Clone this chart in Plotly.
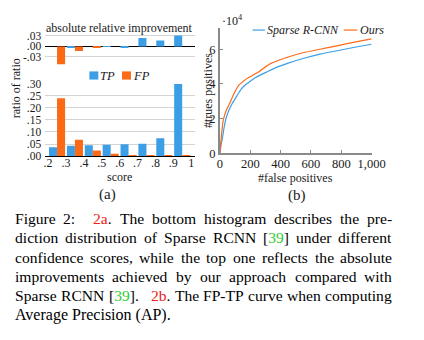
import plotly.graph_objects as go

W, H = 424, 340

# ---------------- data ----------------
score_bin_centers = [0.25, 0.35, 0.45, 0.55, 0.65, 0.75, 0.85, 0.95]
score_tick_vals = [0.2, 0.3, 0.4, 0.5, 0.6, 0.7, 0.8, 0.9, 1.0]
score_tick_text = [".2", ".3", ".4", ".5", ".6", ".7", ".8", ".9", "1"]

tp_ratio = [0.037, 0.043, 0.045, 0.047, 0.049, 0.051, 0.074, 0.300]
fp_ratio = [0.240, 0.068, 0.023, 0.009, 0.004, 0.002, 0.001, 0.001]

tp_improvement = [0.000, -0.002, 0.000, 0.0005, -0.003, 0.024, 0.017, 0.031]
fp_improvement = [-0.051, -0.013, -0.002, 0.000, 0.000, 0.000, 0.000, 0.000]

improve_tick_vals = [-0.03, 0.0, 0.03]
improve_tick_text = ["-.03", ".00", ".03"]
ratio_tick_vals = [0.0, 0.05, 0.10, 0.15, 0.20, 0.25, 0.30]
ratio_tick_text = [".00", ".05", ".10", ".15", ".20", ".25", ".30"]

fp_ours = [0, 5, 12, 20, 38, 63, 91, 122, 150, 186, 259, 333, 450, 553, 660, 764, 880, 1000]
tp_ours = [0.0, 0.6, 1.2, 1.8, 2.39, 2.85, 3.40, 3.90, 4.12, 4.35, 4.72, 5.17, 5.55, 5.81, 6.00, 6.18, 6.40, 6.60]

fp_sparse = [0, 8, 17, 27, 38, 55, 80, 112, 140, 165, 200, 238, 312, 380, 450, 553, 660, 764, 880, 1000]
tp_sparse = [0.0, 0.5, 0.9, 1.46, 1.93, 2.39, 2.85, 3.31, 3.70, 3.92, 4.15, 4.38, 4.70, 4.98, 5.20, 5.48, 5.72, 5.90, 6.10, 6.29]

fp_tick_vals = [0, 200, 400, 600, 800, 1000]
fp_tick_text = ["0", "200", "400", "600", "800", "1,000"]
tp_tick_vals = [0, 2, 4, 6]
tp_tick_text = ["0", "2", "4", "6"]

BLUE = "#3c9fe6"
ORANGE = "#fc6a17"
SERIF = "Liberation Serif"
TXT = "#1a1a1a"


def px(x):
    return x / W


def py(y):
    return 1 - y / H


fig = go.Figure()

# top-left: improvement
fig.add_trace(go.Bar(x=score_bin_centers, y=tp_improvement, width=0.045, offset=-0.045,
                     marker=dict(color=BLUE, line=dict(width=0)), xaxis="x", yaxis="y", showlegend=False))
fig.add_trace(go.Bar(x=score_bin_centers, y=fp_improvement, width=0.045, offset=0.0,
                     marker=dict(color=ORANGE, line=dict(width=0)), xaxis="x", yaxis="y", showlegend=False))
# bottom-left: ratio
fig.add_trace(go.Bar(x=score_bin_centers, y=tp_ratio, width=0.045, offset=-0.045,
                     marker=dict(color=BLUE, line=dict(width=0)), xaxis="x2", yaxis="y2", showlegend=False))
fig.add_trace(go.Bar(x=score_bin_centers, y=fp_ratio, width=0.045, offset=0.0,
                     marker=dict(color=ORANGE, line=dict(width=0)), xaxis="x2", yaxis="y2", showlegend=False))
# right: FP-TP curves
fig.add_trace(go.Scatter(x=fp_sparse, y=tp_sparse, mode="lines",
                         line=dict(color=BLUE, width=1.2, shape="spline", smoothing=0.6),
                         xaxis="x3", yaxis="y3", showlegend=False))
fig.add_trace(go.Scatter(x=fp_ours, y=tp_ours, mode="lines",
                         line=dict(color=ORANGE, width=1.2, shape="spline", smoothing=0.6),
                         xaxis="x3", yaxis="y3", showlegend=False))

left_x_dom = [px(44), px(200)]
left_x_range = [0.2 - 3 / 186.25, 1.0 + 4 / 186.25]
tick_font = dict(family=SERIF, size=11.5, color=TXT)

fig.update_layout(
    width=W, height=H, margin=dict(l=0, r=0, t=0, b=0),
    paper_bgcolor="white", plot_bgcolor="white",
    barmode="overlay",
    font=dict(family=SERIF, size=12, color=TXT),
    xaxis=dict(domain=left_x_dom, range=left_x_range, anchor="y", showticklabels=False,
               showgrid=False, zeroline=False, ticks=""),
    yaxis=dict(domain=[py(60.7), py(29.2)], range=[-0.051, 0.035], anchor="x",
               tickvals=improve_tick_vals, ticktext=improve_tick_text, tickfont=tick_font,
               showgrid=True, gridcolor="#d4d4d4", gridwidth=1,
               zeroline=True, zerolinecolor="#000000", zerolinewidth=1, ticks="", ticklen=0,
               ticklabelstandoff=3),
    xaxis2=dict(domain=left_x_dom, range=left_x_range, anchor="y2",
                tickvals=score_tick_vals, ticktext=score_tick_text, tickfont=dict(family=SERIF, size=12, color=TXT),
                showgrid=False, zeroline=False, showline=True, linecolor="#000000", linewidth=1,
                ticks="", ticklen=0, ticklabelstandoff=-4),
    yaxis2=dict(domain=[py(156), py(81)], range=[0, 0.30], anchor="x2",
                tickvals=ratio_tick_vals, ticktext=ratio_tick_text, tickfont=tick_font,
                showgrid=True, gridcolor="#d4d4d4", gridwidth=1, zeroline=False, ticks="", ticklen=0,
                ticklabelstandoff=3),
    xaxis3=dict(domain=[px(226), px(384)], range=[0, 1000], anchor="y3",
                tickvals=fp_tick_vals, ticktext=fp_tick_text, tickfont=dict(family=SERIF, size=12.5, color=TXT),
                showgrid=False, zeroline=False, showline=True, linecolor="#8a8a8a", linewidth=1.5,
                ticks="inside", ticklen=3, tickcolor="#8a8a8a", ticklabelstandoff=-2),
    yaxis3=dict(domain=[py(153), py(23)], range=[0, 7.22], anchor="x3",
                tickvals=tp_tick_vals, ticktext=tp_tick_text, tickfont=dict(family=SERIF, size=12.5, color=TXT),
                showgrid=False, zeroline=False, showline=True, linecolor="#8a8a8a", linewidth=2,
                ticks="inside", ticklen=3, tickcolor="#8a8a8a"),
)

ann = []
shapes = []


def label(x, y, text, size=12, xanchor="center", angle=0, color=TXT):
    ann.append(dict(x=px(x), y=py(y), xref="paper", yref="paper", text=text, showarrow=False,
                    xanchor=xanchor, yanchor="middle", textangle=angle, borderpad=0, borderwidth=0,
                    font=dict(family=SERIF, size=size, color=color)))


label(121.7, 22.5, "absolute relative improvement", 12)
label(13, 85, "ratio of ratio", 12, angle=-90)
label(121, 177.5, "score", 12)
label(108.5, 196, "(a)", 15)
label(213, 88, "#trues positives", 12, angle=-90)
label(304.5, 178.5, "#false positives", 12)
label(306, 197, "(b)", 15)
label(228.5, 15, "·10<sup>4</sup>", 12, xanchor="left")

# legend (left)
shapes.append(dict(type="rect", xref="paper", yref="paper", x0=px(90), x1=px(99.3), y0=py(76.5), y1=py(68),
                   fillcolor=BLUE, line=dict(width=0)))
shapes.append(dict(type="rect", xref="paper", yref="paper", x0=px(124), x1=px(133.3), y0=py(76.5), y1=py(68),
                   fillcolor=ORANGE, line=dict(width=0)))
label(101.5, 72.5, "<i>TP</i>", 12.5, xanchor="left")
label(135, 72.5, "<i>FP</i>", 12.5, xanchor="left")
# legend (right)
shapes.append(dict(type="line", xref="paper", yref="paper", x0=px(260), x1=px(273), y0=py(25), y1=py(25),
                   line=dict(color=BLUE, width=1.2)))
shapes.append(dict(type="line", xref="paper", yref="paper", x0=px(355), x1=px(369), y0=py(25), y1=py(25),
                   line=dict(color=ORANGE, width=1.2)))
label(275.5, 25, "<i>Sparse R-CNN</i>", 12, xanchor="left")
label(371.5, 25, "<i>Ours</i>", 12, xanchor="left")

# ---------------- caption (justified) ----------------
TIMES = {' ': 250, '!': 333, '#': 500, '(': 333, ')': 333, ',': 250, '-': 333, '.': 250, ':': 278,
         '[': 333, ']': 333, 'A': 722, 'B': 667, 'C': 667, 'D': 722, 'E': 611, 'F': 556, 'G': 722,
         'H': 722, 'I': 333, 'N': 722, 'P': 556, 'R': 667, 'S': 556, 'T': 611,
         'a': 444, 'b': 500, 'c': 444, 'd': 500, 'e': 444, 'f': 333, 'g': 500, 'h': 500, 'i': 278,
         'j': 278, 'k': 500, 'l': 278, 'm': 778, 'n': 500, 'o': 500, 'p': 500, 'q': 500, 'r': 333,
         's': 389, 't': 278, 'u': 500, 'v': 500, 'w': 722, 'x': 500, 'y': 500, 'z': 444}
LAYOUT_FS = 16.2   # size used for positioning words (matches reference metrics)
CAP_FS = 15.6      # drawn size (a touch smaller so justified words never collide)
RED = "#f01c1c"
GREEN = "#2ecc2e"


def tw(s):
    return sum(TIMES.get(c, 500) for c in s) * LAYOUT_FS / 1000


def red(s):
    return f"<span style='color:{RED}'>{s}</span>"


def green(s):
    return f"<span style='color:{GREEN}'>{s}</span>"


cite = "[" + green("39") + "]"
caption_lines = [
    [("Figure", "Figure"), ("2:", "2:", 10), (red("2a") + ".", "2a."), ("The", "The"), ("bottom", "bottom"),
     ("histogram", "histogram"), ("describes", "describes"), ("the", "the"), ("pre-", "pre-")],
    [("diction", "diction"), ("distribution", "distribution"), ("of", "of"), ("Sparse", "Sparse"),
     ("RCNN", "RCNN"), (cite, "[39]"), ("under", "under"), ("different", "different")],
    [("confidence", "confidence"), ("scores,", "scores,"), ("while", "while"), ("the", "the"), ("top", "top"),
     ("one", "one"), ("reflects", "reflects"), ("the", "the"), ("absolute", "absolute")],
    [("improvements", "improvements"), ("achieved", "achieved"), ("by", "by"), ("our", "our"),
     ("approach", "approach"), ("compared", "compared"), ("with", "with")],
    [("Sparse", "Sparse"), ("RCNN", "RCNN"), (cite + ".", "[39].", 8), (red("2b") + ".", "2b."), ("The", "The"),
     ("FP-TP", "FP-TP"), ("curve", "curve"), ("when", "when"), ("computing", "computing")],
]
last_line = "Average Precision (AP)."
X0, X1 = 12.3, 405.5
LINE0, LSTEP = 220.8, 20.15


def cap_ann(x, y, text, xanchor, size=CAP_FS):
    ann.append(dict(x=px(x), y=py(y), xref="paper", yref="paper", text=text, showarrow=False,
                    xanchor=xanchor, yanchor="middle", borderpad=0, borderwidth=0,
                    font=dict(family=SERIF, size=size, color="#000000")))


for i, words in enumerate(caption_lines):
    yc = LINE0 + LSTEP * i
    widths = [tw(w[1]) for w in words]
    extras = [w[2] if len(w) > 2 else 0 for w in words]
    n = len(words)
    gap = (X1 - X0 - sum(widths) - sum(extras[:-1])) / (n - 1)
    x = X0
    for k, w in enumerate(words):
        if k == n - 1:
            cap_ann(X1, yc, w[0], "right")
        else:
            cap_ann(x, yc, w[0], "left")
        x += widths[k] + gap + extras[k]
cap_ann(X0, LINE0 + LSTEP * 5, last_line, "left", size=16.0)

fig.update_layout(annotations=ann, shapes=shapes)
fig.write_html("out.html")
